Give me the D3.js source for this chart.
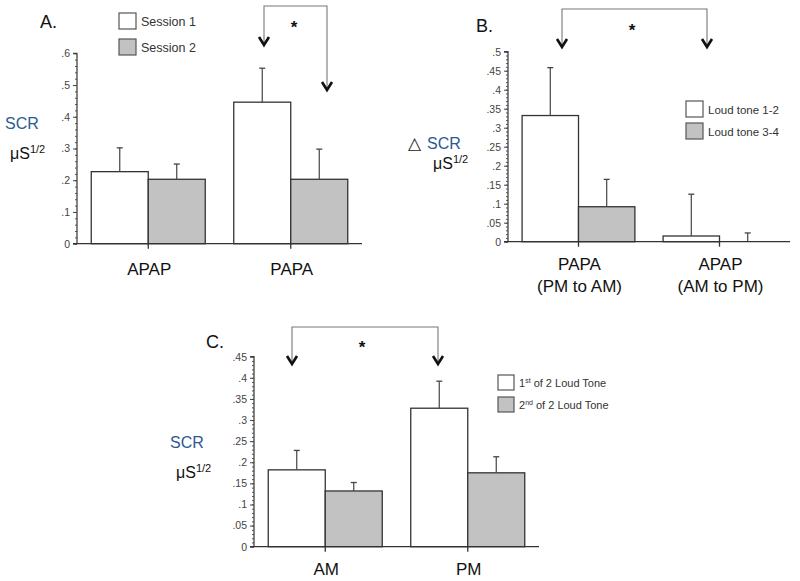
<!DOCTYPE html>
<html>
<head>
<meta charset="utf-8">
<script src="https://cdn.jsdelivr.net/npm/d3@7"></script>
<style>
  body { margin: 0; background: #fff; }
  svg { font-family: "Liberation Sans", Arial, sans-serif; }
</style>
</head>
<body>
<script>
'use strict';

// ---- panel A data ----
const catsA = [["APAP"], ["PAPA"]];
const seriesA = ["Session 1", "Session 2"];
const valuesA = [[0.227, 0.203], [0.446, 0.203]];
const errorsA = [[0.075, 0.048], [0.107, 0.095]];
const ticksA = [0, 0.1, 0.2, 0.3, 0.4, 0.5, 0.6];

// ---- panel B data ----
const catsB = [["PAPA", "(PM to AM)"], ["APAP", "(AM to PM)"]];
const seriesB = ["Loud tone 1-2", "Loud tone 3-4"];
const valuesB = [[0.332, 0.092], [0.015, 0]];
const errorsB = [[0.126, 0.072], [0.110, 0.023]];
const ticksB = [0, 0.05, 0.1, 0.15, 0.2, 0.25, 0.3, 0.35, 0.4, 0.45, 0.5];

// ---- panel C data ----
const catsC = [["AM"], ["PM"]];
const seriesC = [["1", "st", " of 2 Loud Tone"], ["2", "nd", " of 2 Loud Tone"]];
const valuesC = [[0.182, 0.132], [0.328, 0.175]];
const errorsC = [[0.046, 0.020], [0.064, 0.038]];
const ticksC = [0, 0.05, 0.1, 0.15, 0.2, 0.25, 0.3, 0.35, 0.4, 0.45];

const fills = ["#ffffff", "#c2c2c2"];

const svg = d3.select('body').append('svg')
  .attr('width', 800)
  .attr('height', 581);

// ".6" style labels, no leading zero
function fmtTick(d) {
  if (d === 0) return "0";
  return d3.format(".2~f")(d).replace(/^0/, "");
}

function drawPanel(p) {
  const g = svg.append('g');

  let yScale = d3.scaleLinear()
    .domain([0, d3.max(p.ticks)])
    .range([p.bottom, p.top]);

  let xScale = d3.scaleBand()
    .domain(p.cats.map((c) => c[0]))
    .range([p.left, p.right])
    .paddingInner(0.2)
    .paddingOuter(0.1);

  let inner = d3.scaleBand()
    .domain(d3.range(p.values[0].length))
    .range([0, xScale.bandwidth()]);

  // minor ticks
  let minor = d3.range(0, d3.max(p.ticks) + 1e-9, p.minorStep).map((v) => +v.toFixed(3));
  g.append('g')
    .attr('transform', `translate(${p.left},0)`)
    .call(d3.axisLeft(yScale).tickValues(minor).tickSize(2).tickFormat(''))
    .call((a) => a.select('.domain').remove())
    .selectAll('line').attr('stroke', '#555');

  // major axis
  let yAxis = g.append('g')
    .attr('transform', `translate(${p.left},0)`)
    .call(d3.axisLeft(yScale).tickValues(p.ticks).tickSize(4).tickPadding(3).tickFormat(fmtTick));
  yAxis.select('.domain').attr('d', `M-4,${p.top}H0V${p.bottom}`).attr('stroke', '#444').attr('stroke-width', 1.3);
  yAxis.selectAll('line').attr('stroke', '#444');
  yAxis.selectAll('text').attr('fill', '#444').style('font-size', '10.5px')
    .style('font-family', '"Liberation Sans", Arial, sans-serif');

  // bars
  p.cats.forEach((c, i) => {
    p.values[i].forEach((v, j) => {
      if (v <= 0) return;
      let x0 = xScale(c[0]) + inner(j);
      g.append('rect')
        .attr('x', x0)
        .attr('y', yScale(v))
        .attr('width', inner.bandwidth())
        .attr('height', yScale(0) - yScale(v))
        .attr('fill', fills[j])
        .attr('stroke', '#333')
        .attr('stroke-width', 1.3);
    });
  });

  // error bars (upper only)
  p.cats.forEach((c, i) => {
    p.values[i].forEach((v, j) => {
      let cx = xScale(c[0]) + inner(j) + inner.bandwidth() / 2;
      let top = yScale(v + p.errors[i][j]);
      g.append('line')
        .attr('x1', cx).attr('x2', cx)
        .attr('y1', yScale(v)).attr('y2', top)
        .attr('stroke', '#444').attr('stroke-width', 1.2);
      g.append('line')
        .attr('x1', cx - 3).attr('x2', cx + 3)
        .attr('y1', top).attr('y2', top)
        .attr('stroke', '#444').attr('stroke-width', 1.3);
    });
  });

  // x axis baseline with ticks at group centres
  g.append('line')
    .attr('x1', p.left - 4).attr('x2', p.right)
    .attr('y1', p.bottom).attr('y2', p.bottom)
    .attr('stroke', '#333').attr('stroke-width', 1.3);
  p.cats.forEach((c) => {
    let cx = xScale(c[0]) + xScale.bandwidth() / 2;
    g.append('line')
      .attr('x1', cx).attr('x2', cx)
      .attr('y1', p.bottom).attr('y2', p.bottom + 5)
      .attr('stroke', '#333').attr('stroke-width', 1.3);
    c.forEach((line, k) => {
      g.append('text')
        .attr('x', cx + 1)
        .attr('y', p.bottom + p.labOffset + k * 22)
        .attr('text-anchor', 'middle')
        .style('font-size', '17px')
        .attr('fill', '#111')
        .text(line);
    });
  });

  // legend
  p.series.forEach((s, j) => {
    let ly = p.legend.y + j * p.legend.gap;
    g.append('rect')
      .attr('x', p.legend.x).attr('y', ly)
      .attr('width', p.legend.w).attr('height', p.legend.h)
      .attr('fill', fills[j]).attr('stroke', '#555').attr('stroke-width', 1.2);
    let t = g.append('text')
      .attr('x', p.legend.x + p.legend.w + 5)
      .attr('y', ly + p.legend.h / 2 + 4.5)
      .style('font-size', p.legend.font)
      .attr('fill', '#333');
    if (Array.isArray(s)) {
      t.append('tspan').text(s[0]);
      t.append('tspan').attr('dy', -4).style('font-size', '7px').text(s[1]);
      t.append('tspan').attr('dy', 4).text(s[2]);
    } else {
      t.text(s);
    }
  });

  // panel letter
  g.append('text')
    .attr('x', p.letter.x).attr('y', p.letter.y)
    .style('font-size', '18px').attr('fill', '#111')
    .text(p.letter.text);

  // y label
  if (p.ylab.delta) {
    g.append('text')
      .attr('x', p.ylab.x).attr('y', p.ylab.y)
      .style('font-size', '17px').attr('fill', '#222')
      .text('\u25B3');
  }
  g.append('text')
    .attr('x', p.ylab.sx).attr('y', p.ylab.y)
    .style('font-size', '16px').attr('fill', '#2b5a92')
    .text('SCR');
  let mu = g.append('text')
    .attr('x', p.ylab.mx).attr('y', p.ylab.my)
    .style('font-size', '16px').attr('fill', '#111');
  mu.append('tspan').text('\u03BCS');
  mu.append('tspan').attr('dy', -6).style('font-size', '11px').text('1/2');

  // significance bracket
  let b = p.bracket;
  g.append('path')
    .attr('d', `M${b.x1},${b.tip1}V${b.top}H${b.x2}V${b.tip2}`)
    .attr('fill', 'none').attr('stroke', '#777').attr('stroke-width', 1.1);
  [[b.x1, b.tip1], [b.x2, b.tip2]].forEach(([ax, ay]) => {
    g.append('path')
      .attr('d', `M${ax - 5},${ay - 8}L${ax},${ay}L${ax + 5},${ay - 8}`)
      .attr('fill', 'none').attr('stroke', '#111').attr('stroke-width', 2.6);
  });
  g.append('text')
    .attr('x', b.sx).attr('y', b.sy)
    .attr('text-anchor', 'middle')
    .style('font-size', '17px').style('font-weight', 'bold').attr('fill', '#111')
    .text('*');
}

drawPanel({
  cats: catsA, series: seriesA, values: valuesA, errors: errorsA, ticks: ticksA,
  minorStep: 0.02, left: 77, right: 362, top: 53.3, bottom: 243.7, labOffset: 31,
  legend: { x: 119, y: 13, w: 17, h: 16, gap: 26, font: '12.5px' },
  letter: { x: 40, y: 28, text: 'A.' },
  ylab: { sx: 5, y: 129, mx: 10, my: 159 },
  bracket: { x1: 264, x2: 327, top: 6, tip1: 45, tip2: 90, sx: 294, sy: 33 }
});

drawPanel({
  cats: catsB, series: seriesB, values: valuesB, errors: errorsB, ticks: ticksB,
  minorStep: 0.01, left: 508, right: 790, top: 51.7, bottom: 241.7, labOffset: 28,
  legend: { x: 686, y: 101, w: 17, h: 16, gap: 22, font: '11.5px' },
  letter: { x: 476, y: 32, text: 'B.' },
  ylab: { x: 408, sx: 427, y: 149, mx: 433, my: 169, delta: true },
  bracket: { x1: 562, x2: 707, top: 9, tip1: 47, tip2: 47, sx: 632, sy: 36 }
});

drawPanel({
  cats: catsC, series: seriesC, values: valuesC, errors: errorsC, ticks: ticksC,
  minorStep: 0.01, left: 254, right: 539, top: 356.7, bottom: 546.7, labOffset: 28,
  legend: { x: 498, y: 375, w: 16, h: 15, gap: 22, font: '11px' },
  letter: { x: 206, y: 348, text: 'C.' },
  ylab: { sx: 170, y: 448, mx: 176, my: 478 },
  bracket: { x1: 292, x2: 438, top: 327, tip1: 364, tip2: 364, sx: 362, sy: 353 }
});
</script>
</body>
</html>
